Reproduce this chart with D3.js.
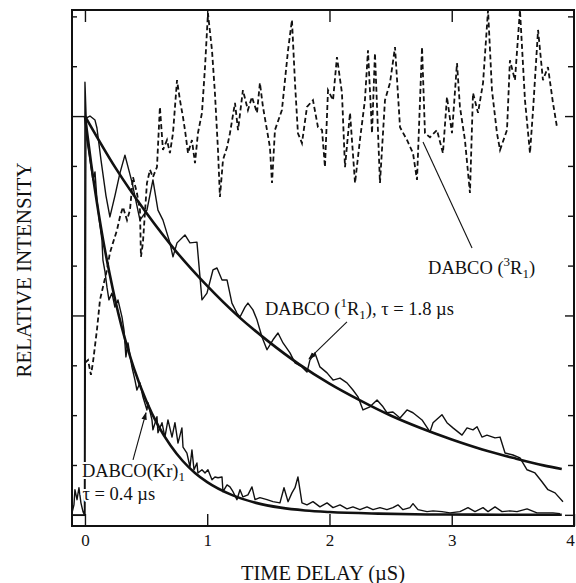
<!DOCTYPE html>
<html>
<head>
<meta charset="utf-8">
<script src="https://cdn.jsdelivr.net/npm/d3@7"></script>
<style>
  body { margin: 0; background: #fff; }
  svg text { font-family: "Liberation Serif", "Times New Roman", serif; fill: #111; }
</style>
</head>
<body>
<div id="chart"></div>
<script>
// --- Data (time in µs, relative intensity) ---
const xTicks = [0, 1, 2, 3, 4];
const yMinorTicks = [0.125, 0.25, 0.375, 0.625, 0.75, 0.875, 1.125, 1.25];
const yMajorTicks = [0, 0.5, 1.0];

// DABCO(1R1) measured trace
const r1Data = [
  [-0.106, 0], [0, 0], [0.008, 0.995], [0.041, 1.0], [0.082, 0.99], [0.098, 0.97], [0.131, 0.89],
  [0.172, 0.80], [0.204, 0.747], [0.245, 0.80], [0.286, 0.857], [0.327, 0.902], [0.384, 0.835],
  [0.45, 0.739], [0.507, 0.764], [0.556, 0.84], [0.597, 0.764], [0.638, 0.739], [0.695, 0.682],
  [0.72, 0.647], [0.753, 0.682], [0.818, 0.702], [0.859, 0.682], [0.916, 0.684], [0.957, 0.539],
  [0.998, 0.556], [1.047, 0.614], [1.08, 0.619], [1.121, 0.589], [1.162, 0.589], [1.202, 0.531],
  [1.243, 0.506], [1.268, 0.496], [1.309, 0.521], [1.333, 0.531], [1.374, 0.514], [1.407, 0.489],
  [1.448, 0.446], [1.489, 0.414], [1.538, 0.439], [1.579, 0.456], [1.62, 0.431], [1.677, 0.406],
  [1.718, 0.381], [1.775, 0.371], [1.816, 0.358], [1.84, 0.388], [1.881, 0.406], [1.922, 0.371],
  [1.98, 0.356], [2.029, 0.338], [2.086, 0.343], [2.143, 0.331], [2.192, 0.313], [2.233, 0.296],
  [2.274, 0.263], [2.331, 0.271], [2.389, 0.288], [2.438, 0.271], [2.47, 0.256], [2.519, 0.258],
  [2.577, 0.243], [2.634, 0.263], [2.683, 0.256], [2.757, 0.238], [2.822, 0.208], [2.847, 0.231],
  [2.92, 0.251], [2.961, 0.231], [3.01, 0.218], [3.084, 0.2], [3.125, 0.218], [3.174, 0.213],
  [3.207, 0.221], [3.247, 0.195], [3.288, 0.2], [3.354, 0.193], [3.395, 0.195], [3.436, 0.155],
  [3.501, 0.15], [3.558, 0.143], [3.616, 0.113], [3.681, 0.105], [3.738, 0.083], [3.787, 0.063],
  [3.845, 0.055], [3.91, 0.033]
];

// DABCO(Kr)1 measured trace
const krData = [
  [-0.106, 0.005], [-0.09, 0.025], [-0.082, 0.063], [-0.065, 0.038], [-0.049, 0.068], [-0.033, 0.03],
  [-0.016, 0.008], [-0.004, 0], [0, 1.085], [0.016, 0.94], [0.041, 0.89], [0.065, 0.84], [0.082, 0.86],
  [0.098, 0.79], [0.115, 0.744], [0.139, 0.689], [0.147, 0.639], [0.164, 0.609], [0.18, 0.571],
  [0.196, 0.539], [0.221, 0.556], [0.245, 0.521], [0.27, 0.539], [0.303, 0.496], [0.319, 0.464],
  [0.335, 0.396], [0.352, 0.431], [0.384, 0.371], [0.409, 0.338], [0.425, 0.313], [0.45, 0.331],
  [0.474, 0.296], [0.507, 0.263], [0.515, 0.281], [0.548, 0.238], [0.556, 0.213], [0.589, 0.246],
  [0.597, 0.206], [0.63, 0.231], [0.654, 0.195], [0.679, 0.238], [0.712, 0.195], [0.736, 0.231],
  [0.761, 0.18], [0.793, 0.218], [0.802, 0.17], [0.834, 0.155], [0.859, 0.12], [0.875, 0.163],
  [0.892, 0.113], [0.916, 0.13], [0.924, 0.105], [0.957, 0.113], [0.982, 0.105], [1.006, 0.113],
  [1.039, 0.088], [1.063, 0.095], [1.088, 0.093], [1.121, 0.095], [1.129, 0.058], [1.162, 0.075],
  [1.186, 0.07], [1.211, 0.058], [1.243, 0.038], [1.268, 0.063], [1.292, 0.045], [1.333, 0.05],
  [1.366, 0.07], [1.391, 0.038], [1.431, 0.043], [1.489, 0.038], [1.538, 0.033], [1.595, 0.03],
  [1.628, 0.068], [1.661, 0.033], [1.693, 0.055], [1.718, 0.068], [1.742, 0.095], [1.775, 0.03],
  [1.816, 0.025], [1.865, 0.033], [1.922, 0.02], [1.98, 0.03], [2.029, 0.018], [2.086, 0.025],
  [2.143, 0.015], [2.192, 0.02], [2.249, 0.013], [2.307, 0.02], [2.356, 0.013], [2.413, 0.018],
  [2.47, 0.013], [2.519, 0.018], [2.56, 0.025], [2.601, 0.013], [2.658, 0.018], [2.683, 0.028],
  [2.724, 0.013], [2.798, 0.008], [2.847, 0.01], [2.92, 0.008], [2.986, 0.005], [3.067, 0.008],
  [3.133, 0.018], [3.19, 0.008], [3.256, 0.018], [3.297, 0.008], [3.354, 0.02], [3.411, 0.008],
  [3.476, 0.01], [3.534, 0.008], [3.616, 0.015], [3.697, 0.005], [3.779, 0.005], [3.828, 0.005],
  [3.885, 0.003]
];

// DABCO(3R1) measured trace (dashed)
const r3Data = [
  [0, 0.381], [0.025, 0.388], [0.049, 0.351], [0.065, 0.381], [0.098, 0.464], [0.123, 0.539],
  [0.147, 0.571], [0.18, 0.614], [0.204, 0.657], [0.229, 0.682], [0.262, 0.714], [0.286, 0.747],
  [0.311, 0.772], [0.344, 0.739], [0.368, 0.764], [0.393, 0.847], [0.425, 0.807], [0.45, 0.764],
  [0.458, 0.647], [0.474, 0.682], [0.507, 0.832], [0.532, 0.865], [0.556, 0.847], [0.589, 0.872],
  [0.613, 1.023], [0.638, 0.915], [0.671, 0.94], [0.695, 0.907], [0.72, 0.957], [0.753, 1.09],
  [0.777, 1.04], [0.802, 0.997], [0.818, 0.965], [0.843, 0.907], [0.875, 0.94], [0.9, 0.882],
  [0.924, 0.957], [0.957, 1.008], [0.982, 1.123], [1.006, 1.258], [1.039, 1.165], [1.063, 1.058],
  [1.088, 0.915], [1.104, 0.797], [1.129, 0.89], [1.162, 0.922], [1.186, 0.957], [1.227, 1.033],
  [1.252, 0.965], [1.292, 1.065], [1.333, 1.015], [1.366, 1.048], [1.407, 1.008], [1.431, 1.083],
  [1.456, 1.023], [1.513, 0.922], [1.53, 0.832], [1.554, 0.965], [1.611, 1.015], [1.661, 1.165],
  [1.693, 1.241], [1.718, 1.083], [1.742, 0.957], [1.775, 0.932], [1.816, 1.023], [1.865, 1.04],
  [1.906, 0.972], [1.939, 0.965], [1.963, 0.872], [1.988, 1.065], [2.029, 1.04], [2.061, 1.148],
  [2.102, 1.058], [2.127, 0.872], [2.168, 1.008], [2.209, 0.832], [2.249, 0.94], [2.29, 1.04],
  [2.315, 1.165], [2.348, 0.957], [2.372, 1.158], [2.413, 0.832], [2.454, 1.04], [2.495, 1.083],
  [2.536, 1.173], [2.577, 0.972], [2.634, 0.94], [2.683, 0.907], [2.716, 0.84], [2.757, 1.173],
  [2.781, 0.957], [2.822, 0.947], [2.879, 0.965], [2.928, 0.907], [2.961, 1.048], [3.002, 0.957],
  [3.043, 1.133], [3.067, 1.023], [3.108, 0.94], [3.149, 0.807], [3.174, 1.058], [3.215, 1.008],
  [3.256, 1.083], [3.297, 1.266], [3.329, 1.065], [3.37, 0.957], [3.395, 0.915], [3.452, 0.965],
  [3.476, 1.14], [3.517, 1.09], [3.558, 1.266], [3.599, 1.04], [3.64, 0.907], [3.665, 1.015],
  [3.706, 1.216], [3.746, 1.09], [3.787, 1.123], [3.828, 1.033], [3.861, 0.972]
];

// fitted decay curves
const r1Fit = [
  [0, 1.0], [0.25, 0.87], [0.5, 0.758], [0.75, 0.659], [1, 0.574], [1.25, 0.499], [1.5, 0.435],
  [1.75, 0.378], [2, 0.329], [2.25, 0.287], [2.5, 0.249], [2.75, 0.217], [3, 0.189], [3.25, 0.164],
  [3.5, 0.143], [3.75, 0.124], [3.9, 0.115]
];
const krFit = [
  [0, 1.0], [0.05, 0.882], [0.1, 0.779], [0.15, 0.687], [0.2, 0.607], [0.25, 0.535], [0.3, 0.472],
  [0.35, 0.417], [0.4, 0.368], [0.5, 0.287], [0.6, 0.223], [0.7, 0.174], [0.8, 0.135], [0.9, 0.105],
  [1.0, 0.082], [1.2, 0.05], [1.4, 0.03], [1.6, 0.018], [1.8, 0.011], [2.0, 0.007], [2.4, 0.003],
  [2.8, 0.001], [3.2, 0.0005], [3.6, 0.0002], [3.9, 0.0001]
];

// --- Setup ---
const width = 576, height = 583;
const x = d3.scaleLinear().domain([-0.106, 4]).range([72, 574]);
const y = d3.scaleLinear().domain([-0.028, 1.266]).range([526, 10]);
const ink = "#111";

const svg = d3.select("#chart").append("svg")
    .attr("width", width).attr("height", height);

const defs = svg.append("defs");
defs.append("clipPath").attr("id", "plot-clip")
  .append("rect")
    .attr("x", x.range()[0]).attr("y", y.range()[1])
    .attr("width", x.range()[1] - x.range()[0])
    .attr("height", y.range()[0] - y.range()[1]);

defs.append("marker")
    .attr("id", "arrow").attr("viewBox", "0 0 10 10")
    .attr("refX", 9).attr("refY", 5)
    .attr("markerWidth", 7).attr("markerHeight", 7)
    .attr("orient", "auto")
  .append("path").attr("d", "M0,1.5L10,5L0,8.5Z").attr("fill", ink);

// --- Axes (ticks point inward) ---
function styleAxis(g) {
  g.select(".domain").remove();
  g.selectAll(".tick line").attr("stroke", ink).attr("stroke-width", 1.4);
}

svg.append("g").attr("transform", `translate(0,${y.range()[0]})`)
  .call(d3.axisBottom(x).tickValues(xTicks).tickSize(-12).tickPadding(8).tickFormat(d3.format("d")))
  .call(styleAxis)
  .call(g => g.selectAll("text")
      .attr("font-size", 17).attr("font-family", "Liberation Serif")
      .attr("dx", d => d === 4 ? -4 : 0));

svg.append("g").attr("transform", `translate(0,${y.range()[1]})`)
  .call(d3.axisTop(x).tickValues(xTicks.slice(0, 4)).tickSize(-12).tickFormat(""))
  .call(styleAxis);

svg.append("g").attr("transform", `translate(${x.range()[0]},0)`)
  .call(d3.axisLeft(y).tickValues(yMinorTicks).tickSize(-5).tickFormat(""))
  .call(styleAxis);
svg.append("g").attr("transform", `translate(${x.range()[0]},0)`)
  .call(d3.axisLeft(y).tickValues(yMajorTicks).tickSize(-13).tickFormat(""))
  .call(styleAxis);
svg.append("g").attr("transform", `translate(${x.range()[1]},0)`)
  .call(d3.axisRight(y).tickValues(yMinorTicks).tickSize(-6).tickFormat(""))
  .call(styleAxis);
svg.append("g").attr("transform", `translate(${x.range()[1]},0)`)
  .call(d3.axisRight(y).tickValues(yMajorTicks).tickSize(-9).tickFormat(""))
  .call(styleAxis);

// --- Traces ---
const line = d3.line().x(d => x(d[0])).y(d => y(d[1]));
const fitLine = d3.line().curve(d3.curveMonotoneX).x(d => x(d[0])).y(d => y(d[1]));

const plot = svg.append("g").attr("clip-path", "url(#plot-clip)");

plot.append("path").datum(r3Data)
    .attr("d", line).attr("fill", "none").attr("stroke", ink)
    .attr("stroke-width", 1.8).attr("stroke-dasharray", "5,3");

plot.append("path").datum(krData)
    .attr("d", line).attr("fill", "none").attr("stroke", ink)
    .attr("stroke-width", 1.4).attr("stroke-linejoin", "round");

plot.append("path").datum(r1Data)
    .attr("d", line).attr("fill", "none").attr("stroke", ink)
    .attr("stroke-width", 1.4).attr("stroke-linejoin", "round");

plot.selectAll(".fit").data([r1Fit, krFit]).join("path")
    .attr("class", "fit")
    .attr("d", fitLine).attr("fill", "none").attr("stroke", ink)
    .attr("stroke-width", 2.6);

// --- Frame ---
svg.append("rect")
    .attr("x", x.range()[0]).attr("y", y.range()[1])
    .attr("width", x.range()[1] - x.range()[0])
    .attr("height", y.range()[0] - y.range()[1])
    .attr("fill", "none").attr("stroke", ink).attr("stroke-width", 2);

// --- Annotations ---
const leaders = [
  { from: [3.166, 0.669], to: [2.765, 0.935], arrow: false },
  { from: [2.143, 0.484], to: [1.832, 0.391], arrow: true },
  { from: [0.393, 0.138], to: [0.499, 0.256], arrow: true }
];
svg.selectAll(".leader").data(leaders).join("line")
    .attr("class", "leader")
    .attr("x1", d => x(d.from[0])).attr("y1", d => y(d.from[1]))
    .attr("x2", d => x(d.to[0])).attr("y2", d => y(d.to[1]))
    .attr("stroke", ink).attr("stroke-width", 1.1)
    .attr("marker-end", d => d.arrow ? "url(#arrow)" : null);

// label parts: [text, "n" normal | "sup" | "sub"]
function addLabel(t, v, parts, halo) {
  const txt = svg.append("text")
      .attr("x", x(t)).attr("y", y(v))
      .attr("font-size", 18.5);
  if (halo) txt.attr("stroke", "#fff").attr("stroke-width", 4).attr("paint-order", "stroke");
  let shift = 0;
  parts.forEach(([s, kind]) => {
    const target = kind === "sup" ? -8 : kind === "sub" ? 4 : 0;
    txt.append("tspan")
        .attr("dy", target - shift)
        .attr("font-size", kind === "n" ? 18.5 : 13)
        .text(s);
    shift = target;
  });
}

addLabel(2.806, 0.604, [["DABCO (", "n"], ["3", "sup"], ["R", "n"], ["1", "sub"], [")", "n"]], false);
addLabel(1.472, 0.501, [["DABCO (", "n"], ["1", "sup"], ["R", "n"], ["1", "sub"], ["), \u03c4 = 1.8 \u00b5s", "n"]], true);
addLabel(-0.025, 0.095, [["DABCO(Kr)", "n"], ["1", "sub"]], true);
addLabel(-0.02, 0.038, [["\u03c4 = 0.4 \u00b5s", "n"]], true);

// --- Axis titles ---
svg.append("text")
    .attr("x", 323)
    .attr("y", 580)
    .attr("text-anchor", "middle")
    .attr("font-size", 20.5)
    .text("TIME DELAY (\u00b5S)");

svg.append("text")
    .attr("transform", `translate(31,${(y.range()[0] + y.range()[1]) / 2 + 2}) rotate(-90)`)
    .attr("text-anchor", "middle")
    .attr("font-size", 21)
    .text("RELATIVE INTENSITY");
</script>
</body>
</html>
